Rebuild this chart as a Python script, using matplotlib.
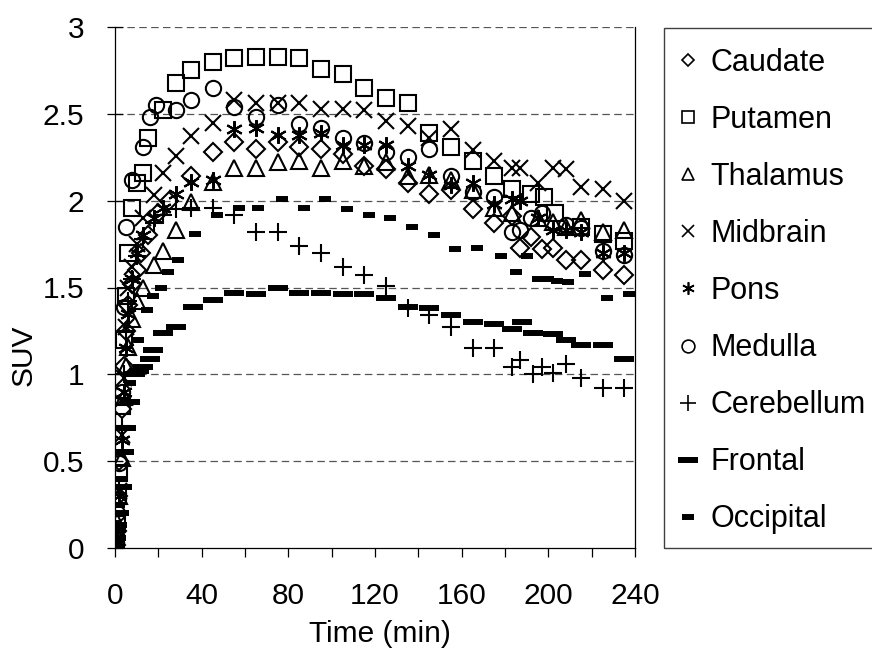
import matplotlib
matplotlib.use("Agg")
import matplotlib.pyplot as plt
from matplotlib.lines import Line2D
from matplotlib.patches import Rectangle

plt.rcParams['font.family'] = ['Liberation Sans', 'DejaVu Sans']

# time (min) and SUV per region
caudate_t = [0.5, 1, 1.5, 2, 3, 4, 5, 6, 8, 10, 12, 15, 20, 25, 35, 45, 55, 65, 75, 85, 95, 105,
             115, 125, 135, 145, 155, 165, 175, 183, 187, 192, 197, 202, 208, 215, 225, 235]
caudate = [0.02, 0.1, 0.3, 0.5, 0.8, 1.05, 1.25, 1.4, 1.52, 1.6, 1.7, 1.8, 1.93, 2.0, 2.14, 2.28,
           2.34, 2.30, 2.34, 2.31, 2.30, 2.27, 2.20, 2.18, 2.10, 2.04, 2.06, 1.95, 1.87, 1.91, 1.73,
           1.79, 1.72, 1.73, 1.66, 1.66, 1.60, 1.57]

putamen_t = [0.5, 1, 1.5, 2, 3, 4, 5, 6, 8, 10, 13, 15, 22, 28, 35, 45, 55, 65, 75, 85, 95, 105,
             115, 125, 135, 145, 155, 165, 175, 183, 192, 198, 203, 215, 225, 235]
putamen = [0.02, 0.14, 0.3, 0.43, 0.82, 1.2, 1.45, 1.70, 1.96, 2.1, 2.16, 2.36, 2.52, 2.68, 2.75,
           2.80, 2.82, 2.83, 2.83, 2.82, 2.76, 2.73, 2.65, 2.59, 2.56, 2.39, 2.31, 2.23, 2.14, 2.07,
           2.04, 2.02, 1.93, 1.85, 1.81, 1.77]

thalamus_t = [0.5, 1, 2, 3, 4, 5, 6, 8, 10, 13, 18, 22, 28, 35, 45, 55, 65, 75, 85, 95, 105, 115,
              125, 135, 145, 155, 165, 175, 183, 195, 202, 208, 215, 225, 235]
thalamus = [0.02, 0.15, 0.3, 0.52, 0.87, 1.05, 1.16, 1.32, 1.42, 1.50, 1.63, 1.71, 1.83, 1.99, 2.11,
            2.19, 2.19, 2.22, 2.23, 2.19, 2.23, 2.20, 2.22, 2.14, 2.15, 2.12, 2.06, 1.96, 1.93, 1.90,
            1.88, 1.85, 1.89, 1.82, 1.83]

midbrain_t = [0.5, 1, 2, 3, 4, 5, 6, 8, 10, 13, 18, 22, 28, 35, 45, 55, 65, 75, 85, 95, 105, 115,
              125, 135, 145, 155, 165, 175, 183, 187, 195, 202, 208, 215, 225, 235]
midbrain = [0.03, 0.1, 0.33, 0.65, 0.98, 1.27, 1.50, 1.62, 1.75, 1.90, 2.03, 2.16, 2.26, 2.37, 2.45,
            2.58, 2.56, 2.56, 2.56, 2.53, 2.53, 2.52, 2.46, 2.43, 2.36, 2.41, 2.29, 2.23, 2.19, 2.19,
            2.10, 2.19, 2.18, 2.08, 2.07, 2.00]

pons_t = [0.5, 1, 2, 3, 4, 5, 6, 8, 10, 13, 18, 22, 28, 35, 45, 55, 65, 75, 85, 95, 105, 115, 125,
          135, 145, 155, 165, 175, 183, 187, 195, 202, 208, 215, 225, 235]
pons = [0.02, 0.1, 0.3, 0.62, 0.9, 1.15, 1.35, 1.55, 1.70, 1.80, 1.90, 1.96, 2.04, 2.11, 2.12, 2.41,
        2.42, 2.38, 2.38, 2.39, 2.32, 2.32, 2.32, 2.20, 2.15, 2.09, 2.10, 1.98, 2.01, 2.0, 1.90, 1.83,
        1.83, 1.82, 1.70, 1.70]

medulla_t = [0.5, 1, 2, 3, 4, 5, 8, 13, 16, 19, 28, 35, 45, 55, 65, 75, 85, 95, 105, 115, 125, 135,
             145, 155, 165, 175, 183, 187, 192, 197, 208, 215, 225, 235]
medulla = [0.03, 0.2, 0.49, 0.9, 1.39, 1.85, 2.12, 2.31, 2.48, 2.55, 2.52, 2.58, 2.65, 2.54, 2.48,
           2.55, 2.44, 2.42, 2.36, 2.33, 2.28, 2.25, 2.30, 2.14, 2.05, 2.02, 1.82, 1.83, 1.90, 1.93,
           1.86, 1.84, 1.71, 1.69]

cerebellum_t = [0.5, 1, 2, 3, 4, 5, 6, 8, 10, 13, 18, 22, 28, 35, 45, 55, 65, 75, 85, 95, 105, 115,
                125, 135, 145, 155, 165, 175, 183, 187, 193, 197, 202, 208, 215, 225, 235]
cerebellum = [0.02, 0.1, 0.35, 0.7, 1.0, 1.25, 1.42, 1.55, 1.68, 1.78, 1.87, 1.92, 1.95, 1.96, 1.96,
              1.92, 1.82, 1.82, 1.74, 1.70, 1.62, 1.57, 1.51, 1.38, 1.34, 1.27, 1.15, 1.15, 1.04,
              1.08, 1.0, 1.04, 1.01, 1.06, 0.98, 0.92, 0.92]

frontal_t = [0.5, 1, 2, 3, 4, 5, 7, 9, 11, 13, 16, 17.5, 22, 28, 36, 45, 55, 65, 75, 85, 95, 105,
             115, 125, 135, 145, 155, 165, 175, 183, 188, 193, 202, 208, 215, 225, 235]
frontal = [0.06, 0.13, 0.2, 0.35, 0.55, 0.69, 0.84, 1.0, 1.02, 1.04, 1.09, 1.14, 1.24, 1.27, 1.39,
           1.43, 1.47, 1.46, 1.50, 1.47, 1.47, 1.46, 1.46, 1.44, 1.39, 1.38, 1.34, 1.30, 1.29, 1.26,
           1.30, 1.24, 1.23, 1.20, 1.17, 1.17, 1.09]

occipital_t = [0.5, 1, 2, 3, 4, 5, 7, 10.7, 14.7, 17.5, 21, 24.5, 29, 37, 47, 57, 66, 77, 87, 97,
               107, 117, 127, 137, 147, 157, 167, 178, 185, 190, 195, 200, 204, 209, 217, 227, 237]
occipital = [0.05, 0.12, 0.25, 0.4, 0.55, 0.69, 0.95, 1.20, 1.37, 1.45, 1.50, 1.59, 1.66, 1.81, 1.92,
             1.96, 1.96, 2.01, 1.96, 2.01, 1.95, 1.92, 1.90, 1.85, 1.80, 1.72, 1.73, 1.68, 1.59, 1.68,
             1.55, 1.55, 1.54, 1.53, 1.58, 1.44, 1.46]

ASTER = (6, 2, 0)

series = [
    ("Caudate", caudate_t, caudate, dict(marker="D", ms=8.7)),
    ("Putamen", putamen_t, putamen, dict(marker="s", ms=11.5)),
    ("Thalamus", thalamus_t, thalamus, dict(marker="^", ms=11.5)),
    ("Midbrain", midbrain_t, midbrain, dict(marker="x", ms=12)),
    ("Pons", pons_t, pons, dict(marker=ASTER, ms=12)),
    ("Medulla", medulla_t, medulla, dict(marker="o", ms=11)),
    ("Cerebellum", cerebellum_t, cerebellum, dict(marker="+", ms=12.5)),
    ("Frontal", frontal_t, frontal, dict(marker="_", ms=14.5, mew=4.3)),
    ("Occipital", occipital_t, occipital, dict(marker="_", ms=8.6, mew=4.3)),
]

fig = plt.figure(figsize=(8.72, 6.52), dpi=100)
ax = fig.add_axes([115/872, 1-548/652, 520/872, 521/652])

for name, t, y, st in series:
    kw = dict(ls="none", color="black", mfc="none", mec="black", mew=1.5)
    kw.update(st)
    ax.plot(t, y, **kw)

ax.set_xlim(0, 240)
ax.set_ylim(0, 3)
ax.set_xticks(range(0, 241, 40))
ax.set_xticks(range(20, 240, 40), minor=True)
ax.set_yticks([0, 0.5, 1, 1.5, 2, 2.5, 3])
ax.set_yticklabels(["0", "0.5", "1", "1.5", "2", "2.5", "3"])

for v in [0.5, 1, 1.5, 2, 2.5, 3]:
    ax.axhline(v, color="#555555", lw=0.9, ls=(0, (6, 3.5)), zorder=0)

ax.spines["top"].set_visible(False)
for s in ["left", "bottom", "right"]:
    ax.spines[s].set_linewidth(0.9)

ax.tick_params(axis="y", direction="inout", length=12, width=0.9, pad=16, labelsize=21.5)
ax.tick_params(axis="x", which="both", direction="out", length=6.5, width=0.9, pad=18, labelsize=21.5)

ax.set_xlabel("Time (min)", fontsize=21.5)
ax.set_ylabel("SUV", fontsize=21.5)
ax.xaxis.set_label_coords(0.51, -0.138)
ax.yaxis.set_label_coords(-0.148, 0.37)

# legend frame that runs off the right edge
fig.patches.append(Rectangle((664/872, 1-548/652), 0.4, 520/652, transform=fig.transFigure,
                             fill=False, edgecolor="#404040", lw=1))

leg_sizes = {"Caudate": 6.6, "Putamen": 8.8, "Thalamus": 8.8, "Midbrain": 8.8, "Pons": 9,
             "Medulla": 9.2, "Cerebellum": 11}
handles = []
for name, t, y, st in series:
    kw = dict(ls="none", color="black", mfc="none", mec="black", mew=1.2)
    kw.update(st)
    if name in leg_sizes:
        kw["ms"] = leg_sizes[name]
    handles.append(Line2D([], [], **kw))

fig.legend(handles, [s[0] for s in series], loc="upper left",
           bbox_to_anchor=(676/872, 1-48/652), frameon=False, fontsize=22,
           handlelength=0.8, handletextpad=0.33, labelspacing=0.885, borderpad=0,
           borderaxespad=0)

plt.savefig("out.png", dpi=100)
